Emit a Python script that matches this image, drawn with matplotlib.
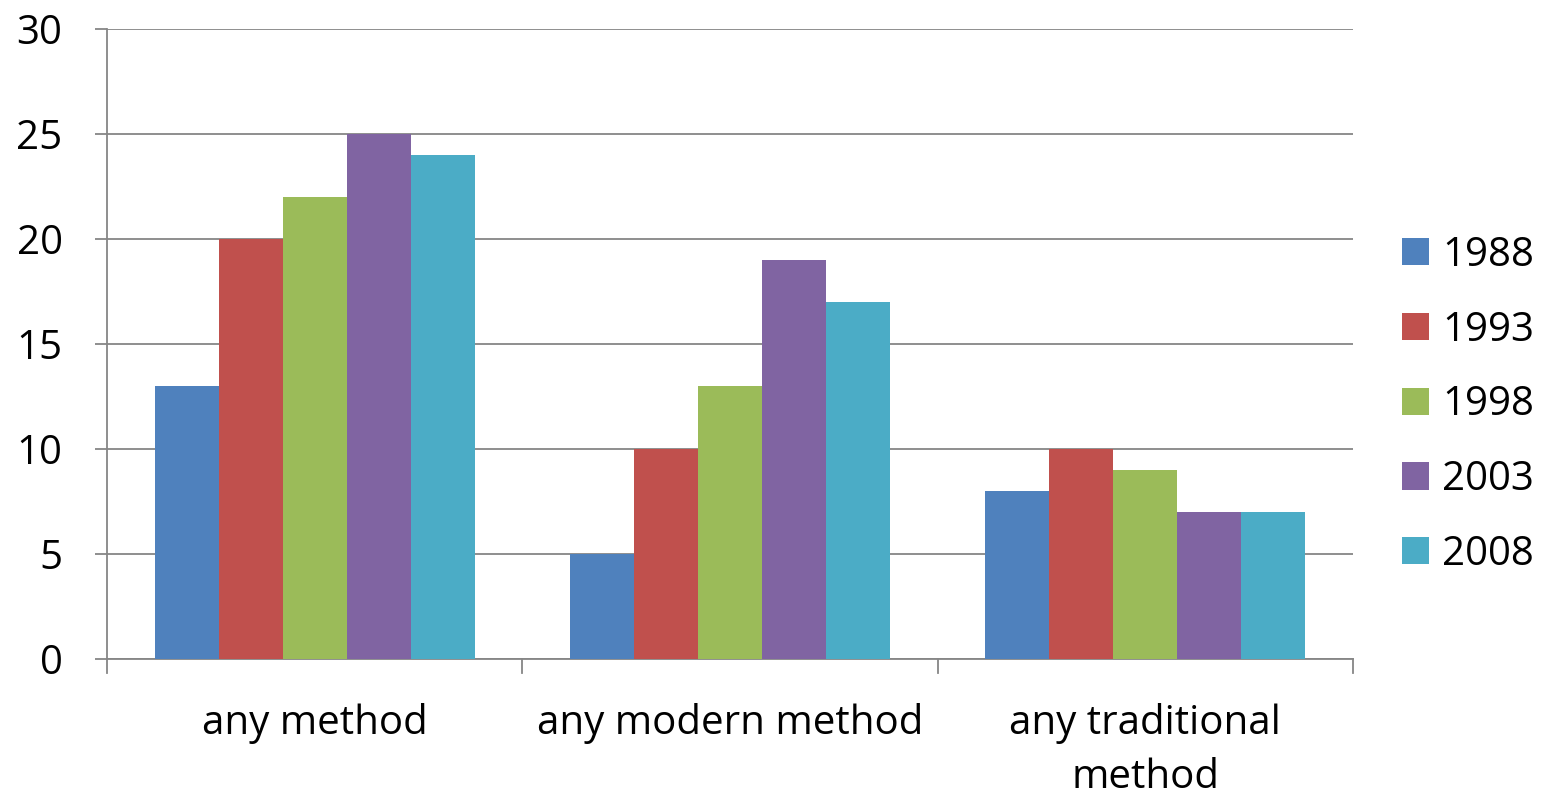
import matplotlib
matplotlib.use('Agg')
import matplotlib.pyplot as plt
import numpy as np

plt.rcParams['font.family'] = ['Open Sans', 'DejaVu Sans']

categories = ['any method', 'any modern method', 'any traditional\nmethod']
years = ['1988', '1993', '1998', '2003', '2008']
values = {
    '1988': [13, 5, 8],
    '1993': [20, 10, 10],
    '1998': [22, 13, 9],
    '2003': [25, 19, 7],
    '2008': [24, 17, 7],
}
colors = ['#4F81BD', '#C0504D', '#9BBB59', '#8064A2', '#4BACC6']

font = 29
grid_col = '#868686'

fig = plt.figure(figsize=(15.47, 7.98), dpi=100)
ax = fig.add_axes([107/1547, 1 - 659/798, (1353-107)/1547, (659-29)/798])

x = np.arange(len(categories))
w = 320/415/5
for i, (y, c) in enumerate(zip(years, colors)):
    ax.bar(x + (i - 2) * w, values[y], width=w, color=c, label=y, zorder=3)

ax.set_xlim(-0.5, len(categories) - 0.5)
ax.set_ylim(0, 30)
ax.set_yticks(np.arange(0, 31, 5))
ax.yaxis.grid(True, color=grid_col, lw=1.3, zorder=0)
ax.set_xticks([])
for s in ['top', 'right']:
    ax.spines[s].set_visible(False)
for s in ['left', 'bottom']:
    ax.spines[s].set_color(grid_col)
    ax.spines[s].set_linewidth(1.3)
ax.tick_params(axis='y', length=9, width=1.3, color=grid_col, labelsize=font, pad=23)

# category separators below the axis
for b in np.arange(len(categories) + 1) - 0.5:
    ax.plot([b, b], [0, -0.023], transform=ax.get_xaxis_transform(), color=grid_col,
            lw=1.3, clip_on=False)
for xi, lab in zip(x, categories):
    ax.text(xi, -0.07, lab, transform=ax.get_xaxis_transform(), ha='center', va='top',
            fontsize=font, linespacing=1.45)

ax.legend(loc='center left', bbox_to_anchor=(1.0393, 0.403), frameon=False, fontsize=font,
          handlelength=0.67, handleheight=0.67, handletextpad=0.33, labelspacing=0.85,
          borderaxespad=0, borderpad=0)

fig.savefig('out.png', dpi=100)
